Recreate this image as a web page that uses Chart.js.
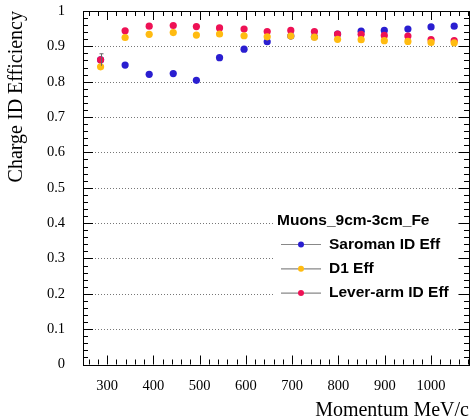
<!DOCTYPE html>
<html>
<head>
<meta charset="utf-8">
<script src="https://cdn.jsdelivr.net/npm/chart.js@4.4.0/dist/chart.umd.min.js"></script>
<style>
  html, body { margin: 0; padding: 0; background: #fff; }
  #wrap { width: 474px; height: 420px; }
</style>
</head>
<body>
<div id="wrap"><canvas id="effChart"></canvas></div>
<script>
// momentum bins (MeV/c) and efficiencies
var momentum   = [286, 339, 391, 443, 493, 543, 596, 646, 697, 748, 798, 849, 899, 950, 1000, 1050];
var saromanEff = [0.862, 0.847, 0.821, 0.823, 0.804, 0.868, 0.892, 0.913, 0.929, 0.927, 0.935, 0.943, 0.945, 0.949, 0.955, 0.957];
var d1Eff      = [0.842, 0.925, 0.934, 0.939, 0.932, 0.935, 0.930, 0.927, 0.929, 0.926, 0.920, 0.919, 0.916, 0.914, 0.911, 0.910];
var leverEff   = [0.862, 0.944, 0.957, 0.959, 0.956, 0.952, 0.949, 0.942, 0.945, 0.942, 0.935, 0.934, 0.931, 0.929, 0.919, 0.916];
var leverErr   = [0.017, 0, 0, 0, 0, 0, 0, 0, 0, 0, 0, 0, 0, 0, 0, 0];

var xTickLabels = [300, 400, 500, 600, 700, 800, 900, 1000];
var yTickLabels = [0, 0.1, 0.2, 0.3, 0.4, 0.5, 0.6, 0.7, 0.8, 0.9, 1];
var legendTitle = 'Muons_9cm-3cm_Fe';

function points(ys) {
    return momentum.map(function (m, i) { return { x: m, y: ys[i] }; });
}

var serif = "'Liberation Serif', 'DejaVu Serif', serif";
var sans = "'Liberation Sans', Arial, sans-serif";

// ROOT style frame: box, inward ticks on all sides, dotted y grid
var framePlugin = {
    id: 'frame',
    beforeDatasetsDraw: function (chart) {
        var ctx = chart.ctx, a = chart.chartArea, y = chart.scales.y;
        ctx.save();
        ctx.strokeStyle = '#777';
        ctx.lineWidth = 1;
        ctx.setLineDash([1, 2]);
        yTickLabels.forEach(function (v) {
            if (v <= 0 || v >= 1) return;
            var py = Math.round(y.getPixelForValue(v)) + 0.5;
            ctx.beginPath();
            ctx.moveTo(a.left, py);
            ctx.lineTo(a.right, py);
            ctx.stroke();
        });
        ctx.restore();
    },
    afterDatasetsDraw: function (chart) {
        var ctx = chart.ctx, a = chart.chartArea;
        var x = chart.scales.x, y = chart.scales.y;
        ctx.save();
        ctx.strokeStyle = '#000';
        ctx.lineWidth = 1;
        ctx.strokeRect(Math.round(a.left) + 0.5, Math.round(a.top) + 0.5,
                       Math.round(a.right - a.left), Math.round(a.bottom - a.top));
        ctx.beginPath();
        // x ticks every 20, long every 100
        for (var v = 260; v <= x.max; v += 20) {
            var px = Math.round(x.getPixelForValue(v)) + 0.5;
            var len = (v % 100 === 0) ? 9 : 5;
            ctx.moveTo(px, a.bottom); ctx.lineTo(px, a.bottom - len);
            ctx.moveTo(px, a.top);    ctx.lineTo(px, a.top + len);
        }
        // y ticks every 0.02, long every 0.1
        for (var k = 0; k <= 50; k++) {
            var py = Math.round(y.getPixelForValue(k * 0.02)) + 0.5;
            var l = (k % 5 === 0) ? 10 : 5;
            ctx.moveTo(a.left, py);  ctx.lineTo(a.left + l, py);
            ctx.moveTo(a.right, py); ctx.lineTo(a.right - l, py);
        }
        ctx.stroke();
        // error bars on lever-arm series
        ctx.strokeStyle = '#666';
        ctx.beginPath();
        leverErr.forEach(function (e, i) {
            if (!e) return;
            var px = Math.round(x.getPixelForValue(momentum[i])) + 0.5;
            var top = y.getPixelForValue(leverEff[i] + e);
            var bot = y.getPixelForValue(leverEff[i] - e);
            ctx.moveTo(px, top); ctx.lineTo(px, bot);
            ctx.moveTo(px - 2, top); ctx.lineTo(px + 2, top);
        });
        ctx.stroke();
        ctx.restore();
    },
    afterDraw: function (chart) {
        var ctx = chart.ctx, a = chart.chartArea;
        var lx = a.left + 194, ly = a.top + 210;
        ctx.save();
        // white legend box, no border
        ctx.fillStyle = '#fff';
        ctx.fillRect(lx - 3, ly - 14, a.right - 12 - (lx - 3), 100);
        ctx.fillStyle = '#000';
        ctx.font = 'bold 15.5px ' + sans;
        ctx.textBaseline = 'middle';
        ctx.fillText(legendTitle, lx, ly);
        var legendSets = [0, 1, 2];
        legendSets.forEach(function (di, i) {
            var ds = chart.data.datasets[di];
            var rowY = ly + 23.5 + i * 24.3;
            ctx.strokeStyle = '#888';
            ctx.lineWidth = 1.2;
            ctx.beginPath();
            ctx.moveTo(lx + 4, rowY); ctx.lineTo(lx + 44, rowY);
            ctx.stroke();
            ctx.fillStyle = ds.backgroundColor;
            ctx.beginPath();
            ctx.arc(lx + 24, rowY, 3, 0, Math.PI * 2);
            ctx.fill();
            ctx.fillStyle = '#000';
            ctx.fillText(ds.label, lx + 52, rowY);
        });
        ctx.restore();
    }
};

var ctx = document.getElementById('effChart').getContext('2d');
var effChart = new Chart(ctx, {
    type: 'scatter',
    data: {
        datasets: [{
            label: 'Saroman ID Eff',
            data: points(saromanEff),
            backgroundColor: '#2a1ed0',
            borderColor: '#2a1ed0',
            order: 2
        }, {
            label: 'D1 Eff',
            data: points(d1Eff),
            backgroundColor: '#ffbb11',
            borderColor: '#ffbb11',
            order: 0
        }, {
            label: 'Lever-arm ID Eff',
            data: points(leverEff),
            backgroundColor: '#ee1155',
            borderColor: '#ee1155',
            order: 1
        }]
    },
    options: {
        responsive: true,
        maintainAspectRatio: false,
        animation: false,
        elements: {
            point: { radius: 3.6, borderWidth: 0, hoverRadius: 3.6 }
        },
        layout: { padding: { top: 11, right: 5, left: 0, bottom: 0 } },
        plugins: {
            legend: { display: false },
            tooltip: { enabled: false }
        },
        scales: {
            x: {
                type: 'linear',
                min: 248,
                max: 1082,
                grid: { display: false },
                border: { display: false },
                afterBuildTicks: function (s) {
                    s.ticks = xTickLabels.map(function (v) { return { value: v }; });
                },
                afterFit: function (s) {
                    s.height = 55.5;
                    s.paddingLeft = 0;
                    s.paddingRight = 0;
                },
                ticks: {
                    padding: 5,
                    color: '#000',
                    font: { family: serif, size: 14.5 },
                    callback: function (v) { return String(v); }
                },
                title: {
                    display: true,
                    text: 'Momentum MeV/c',
                    align: 'end',
                    color: '#000',
                    padding: { top: 0, bottom: -3 },
                    font: { family: serif, size: 20 }
                }
            },
            y: {
                min: 0,
                max: 1,
                grid: { display: false },
                border: { display: false },
                afterBuildTicks: function (s) {
                    s.ticks = yTickLabels.map(function (v) { return { value: v }; });
                },
                afterFit: function (s) {
                    s.width = 83;
                    s.paddingTop = 0;
                    s.paddingBottom = 0;
                },
                ticks: {
                    padding: 10,
                    color: '#000',
                    font: { family: serif, size: 14.5 },
                    callback: function (v) { return String(v); }
                },
                title: {
                    display: true,
                    text: 'Charge ID Efficiency',
                    align: 'end',
                    color: '#000',
                    padding: { top: 5, bottom: 0 },
                    font: { family: serif, size: 20 }
                }
            }
        }
    },
    plugins: [framePlugin]
});
</script>
</body>
</html>
